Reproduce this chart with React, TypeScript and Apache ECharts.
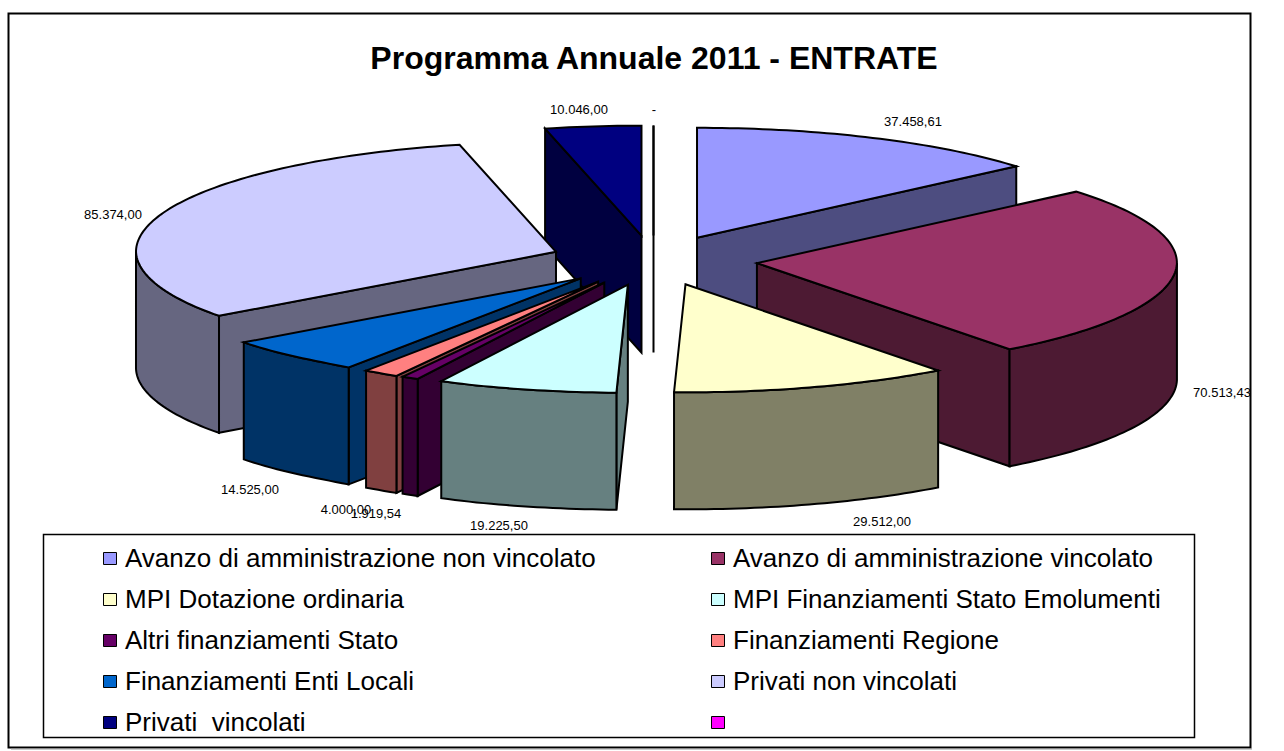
import React, { useEffect, useRef } from "react";
import * as echarts from "echarts";

const categories = [
  "Avanzo di amministrazione non vincolato",
  "Avanzo di amministrazione vincolato",
  "MPI Dotazione ordinaria",
  "MPI Finanziamenti Stato Emolumenti",
  "Altri finanziamenti Stato",
  "Finanziamenti Regione",
  "Finanziamenti Enti Locali",
  "Privati non vincolati",
  "Privati  vincolati",
  "",
];
const values = [37458.61, 70513.43, 29512.0, 19225.5, 1919.54, 4000.0, 14525.0, 85374.0, 10046.0, 0];
const valueLabels = ["37.458,61", "70.513,43", "29.512,00", "19.225,50", "1.919,54", "4.000,00", "14.525,00", "85.374,00", "10.046,00", "-"];
const topColors = ["#9999FF", "#993366", "#FFFFCC", "#CCFFFF", "#660066", "#FF8080", "#0066CC", "#CCCCFF", "#000080", "#FF00FF"];
const sideColors = ["#4D4D80", "#4D1A33", "#808066", "#668080", "#330033", "#804040", "#003366", "#666680", "#000040", "#800080"];
const labelAnchors = [
  [913, 121], [1222, 392], [882, 521], [499, 525], [376, 513],
  [346, 509], [250, 489], [113, 214], [579, 109], [654, 109],
];
const drawOrder = [8, 9, 0, 7, 1, 6, 5, 4, 3, 2];

const CX = 653.5, CY = 260.5, RX = 420, RY = 110, DEPTH = 117, EXPLODE_X = 104, EXPLODE_Y = 25, BORDER = 2;
const total = values.reduce((s, v) => s + v, 0);
const starts: number[] = [];
values.reduce((acc, v, i) => { starts[i] = acc; return acc + v; }, 0);
const rad = (v: number) => (v / total) * Math.PI * 2;
// the reference's projection is slightly foreshortened toward the viewer and lower left
const xScale = (t: number) => {
  const deg = (t * 180) / Math.PI;
  return 1 - 0.012 * Math.max(0, -Math.cos(t)) - 0.022 * Math.exp(-(((deg - 216) / 10) ** 2));
};
const yScale = (t: number) => 1 - 0.018 * Math.max(0, -Math.cos(t));

function renderItem(params: any, api: any) {
  const idx = api.value(0) as number;
  const value = values[idx];
  const a = rad(starts[idx]);
  const b = a + rad(value);
  const mid = (a + b) / 2;
  const ax = CX + EXPLODE_X * Math.sin(mid);
  const ay = CY - EXPLODE_Y * Math.cos(mid);
  const pt = (t: number, dz = 0): number[] => [ax + RX * xScale(t) * Math.sin(t), ay - RY * yScale(t) * Math.cos(t) + dz];
  const shape = (points: number[][], fill: string) => ({
    type: "polygon",
    shape: { points },
    style: { fill, stroke: "#000", lineWidth: BORDER, lineJoin: "miter" },
    z2: params.dataIndex * 10,
  });
  const arcPts = (t0: number, t1: number, dz = 0) => {
    const n = Math.max(1, Math.ceil((t1 - t0) / 0.02));
    const out: number[][] = [];
    for (let i = 0; i <= n; i++) out.push(pt(t0 + ((t1 - t0) * i) / n, dz));
    return out;
  };
  const children: any[] = [];
  const side = sideColors[idx];
  const apex = [ax, ay];
  const apexLow = [ax, ay + DEPTH];
  if (-Math.sin(a) > 1e-6 || value === 0) children.push(shape([apex, pt(a), pt(a, DEPTH), apexLow], side));
  if (Math.sin(b) > 1e-6) children.push(shape([apex, pt(b), pt(b, DEPTH), apexLow], side));
  const r0 = Math.max(a, Math.PI / 2);
  const r1 = Math.min(b, (Math.PI * 3) / 2);
  if (r1 > r0) children.push(shape([...arcPts(r0, r1), ...arcPts(r0, r1, DEPTH).reverse()], side));
  children.push(shape([apex, ...arcPts(a, b)], topColors[idx]));
  const [lx, ly] = labelAnchors[idx];
  children.push({
    type: "text",
    z2: 1000,
    style: {
      x: lx, y: ly, text: valueLabels[idx], align: "center", verticalAlign: "middle",
      fill: "#000", font: "13px 'Liberation Sans'",
    },
  });
  return { type: "group", children };
}

function legendElements() {
  const rows = [558, 599, 640, 681, 722];
  const cols = [[103, 125], [711, 733]];
  const els: any[] = [
    { type: "rect", shape: { x: 8.5, y: 13.5, width: 1242, height: 734 }, style: { fill: "#fff", stroke: "#000", lineWidth: 2 }, z: 0 },
    { type: "line", shape: { x1: 11, y1: 749, x2: 1252, y2: 749 }, style: { stroke: "#999", lineWidth: 1 }, z: 0 },
    { type: "rect", shape: { x: 43.5, y: 534.5, width: 1151, height: 203 }, style: { fill: "#fff", stroke: "#000", lineWidth: 1.5 }, z: 1 },
    {
      type: "text", z: 2,
      style: { x: 654, y: 58, text: "Programma Annuale 2011 - ENTRATE", align: "center", verticalAlign: "middle", fill: "#000", font: "bold 32px 'Liberation Sans'" },
    },
  ];
  categories.forEach((name, i) => {
    const row = rows[Math.floor(i / 2)];
    const [sx, tx] = cols[i % 2];
    els.push({
      type: "rect", z: 2,
      shape: { x: sx + 0.5, y: row - 5.5, width: 13, height: 12 },
      style: { fill: topColors[i], stroke: "#000", lineWidth: 1 },
    });
    if (name) {
      els.push({
        type: "text", z: 2,
        style: { x: tx, y: row, text: name, align: "left", verticalAlign: "middle", fill: "#000", font: "26px 'Liberation Sans'" },
      });
    }
  });
  return els;
}

export default function App() {
  const ref = useRef<HTMLDivElement>(null);
  useEffect(() => {
    document.body.style.margin = "0";
    const chart = echarts.init(ref.current!, null, { renderer: "svg" });
    chart.setOption({
      animation: false,
      backgroundColor: "#fff",
      graphic: { elements: legendElements() },
      series: [
        {
          type: "custom",
          coordinateSystem: "none",
          silent: true,
          z: 5,
          renderItem,
          encode: { value: 0 },
          data: drawOrder.map((i) => ({ name: categories[i], value: [i, values[i]] })),
        },
      ],
    });
    return () => chart.dispose();
  }, []);
  return <div ref={ref} style={{ position: "fixed", left: 0, top: 0, width: 1284, height: 751 }} />;
}
